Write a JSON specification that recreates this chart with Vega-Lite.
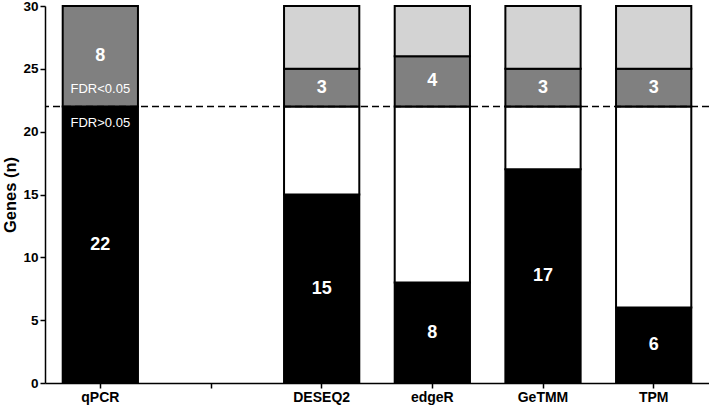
{
  "$schema": "https://vega.github.io/schema/vega-lite/v6.json",
  "width": 664,
  "height": 377,
  "autosize": {"type": "none"},
  "padding": {"left": 45, "top": 6, "right": 0, "bottom": 23},
  "background": "white",
  "config": {
    "view": {"stroke": null},
    "font": "Liberation Sans",
    "axis": {"grid": false, "domainColor": "black", "tickColor": "black", "labelColor": "black", "titleColor": "black", "labelFont": "Liberation Sans", "titleFont": "Liberation Sans"}
  },
  "datasets": {
    "segs": [
      {"method": "qPCR", "segment": "not significant", "lo": 0, "hi": 22, "n": "22"},
      {"method": "qPCR", "segment": "significant", "lo": 22, "hi": 30, "n": "8"},
      {"method": "DESEQ2", "segment": "not significant", "lo": 0, "hi": 15, "n": "15"},
      {"method": "DESEQ2", "segment": "not significant, missed", "lo": 15, "hi": 22, "n": ""},
      {"method": "DESEQ2", "segment": "significant", "lo": 22, "hi": 25, "n": "3"},
      {"method": "DESEQ2", "segment": "significant, missed", "lo": 25, "hi": 30, "n": ""},
      {"method": "edgeR", "segment": "not significant", "lo": 0, "hi": 8, "n": "8"},
      {"method": "edgeR", "segment": "not significant, missed", "lo": 8, "hi": 22, "n": ""},
      {"method": "edgeR", "segment": "significant", "lo": 22, "hi": 26, "n": "4"},
      {"method": "edgeR", "segment": "significant, missed", "lo": 26, "hi": 30, "n": ""},
      {"method": "GeTMM", "segment": "not significant", "lo": 0, "hi": 17, "n": "17"},
      {"method": "GeTMM", "segment": "not significant, missed", "lo": 17, "hi": 22, "n": ""},
      {"method": "GeTMM", "segment": "significant", "lo": 22, "hi": 25, "n": "3"},
      {"method": "GeTMM", "segment": "significant, missed", "lo": 25, "hi": 30, "n": ""},
      {"method": "TPM", "segment": "not significant", "lo": 0, "hi": 6, "n": "6"},
      {"method": "TPM", "segment": "not significant, missed", "lo": 6, "hi": 22, "n": ""},
      {"method": "TPM", "segment": "significant", "lo": 22, "hi": 25, "n": "3"},
      {"method": "TPM", "segment": "significant, missed", "lo": 25, "hi": 30, "n": ""}
    ],
    "notes": [
      {"method": "qPCR", "y": 23.4, "text": "FDR<0.05"},
      {"method": "qPCR", "y": 20.7, "text": "FDR>0.05"}
    ]
  },
  "encoding": {
    "x": {
      "field": "method", "type": "nominal",
      "scale": {"domain": ["qPCR", " ", "DESEQ2", "edgeR", "GeTMM", "TPM"], "paddingInner": 0.32, "paddingOuter": 0.16},
      "axis": {"title": null, "labelAngle": 0, "labelFontSize": 14, "labelFontWeight": "bold", "tickSize": 5, "tickWidth": 1.5, "domainWidth": 1.5, "labelPadding": 2}
    }
  },
  "layer": [
    {
      "data": {"name": "segs"},
      "mark": {"type": "bar", "stroke": "black", "strokeWidth": 2},
      "encoding": {
        "y": {
          "field": "lo", "type": "quantitative",
          "scale": {"domain": [0, 30], "nice": false},
          "axis": {"title": "Genes (n)", "titleFontSize": 16.5, "titleFontWeight": "bold", "titlePadding": 4, "values": [0, 5, 10, 15, 20, 25, 30], "labelFontSize": 13.5, "labelFontWeight": "bold", "tickSize": 5, "tickWidth": 1.5, "domainWidth": 1.5, "labelPadding": 2}
        },
        "y2": {"field": "hi"},
        "color": {
          "field": "segment", "type": "nominal", "legend": null,
          "scale": {"domain": ["not significant", "not significant, missed", "significant", "significant, missed"], "range": ["#000000", "#ffffff", "#808080", "#d3d3d3"]}
        }
      }
    },
    {
      "data": {"values": [{"threshold": 22}]},
      "mark": {"type": "rule", "stroke": "black", "strokeWidth": 1.5, "strokeDash": [7, 4]},
      "encoding": {"x": null, "y": {"field": "threshold", "type": "quantitative"}}
    },
    {
      "data": {"name": "segs"},
      "transform": [{"filter": "datum.n != ''"}, {"calculate": "(datum.lo + datum.hi) / 2", "as": "mid"}],
      "mark": {"type": "text", "color": "white", "fontSize": 18, "fontWeight": "bold", "baseline": "middle"},
      "encoding": {
        "y": {"field": "mid", "type": "quantitative"},
        "text": {"field": "n"}
      }
    },
    {
      "data": {"name": "notes"},
      "mark": {"type": "text", "color": "white", "fontSize": 13, "baseline": "middle"},
      "encoding": {
        "y": {"field": "y", "type": "quantitative"},
        "text": {"field": "text"}
      }
    }
  ]
}
